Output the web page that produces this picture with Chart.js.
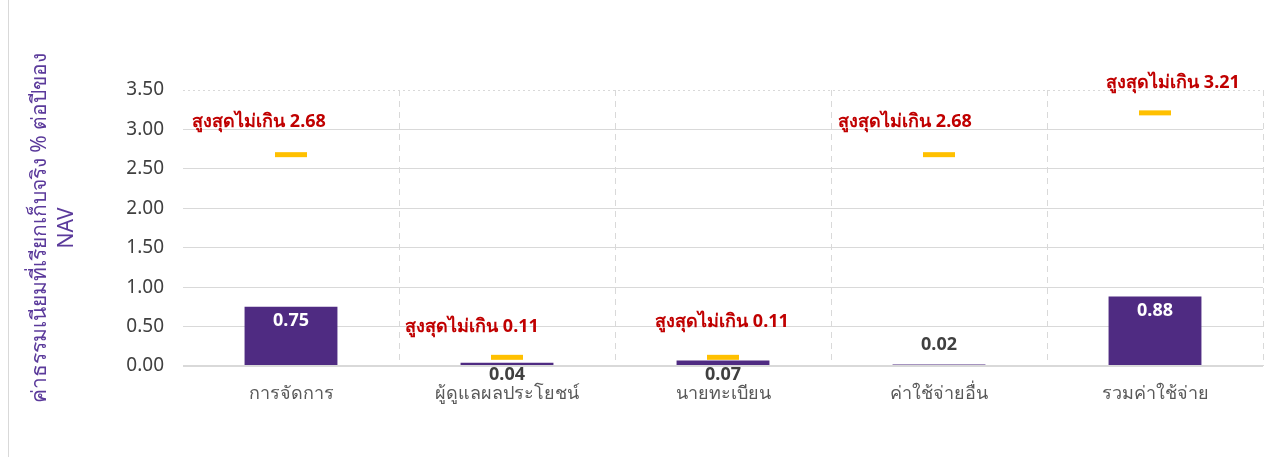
<!DOCTYPE html>
<html>
<head>
<meta charset="utf-8">
<script src="https://cdn.jsdelivr.net/npm/chart.js@4.4.1/dist/chart.umd.min.js"></script>
<style>
  html, body { margin: 0; padding: 0; background: #fff; }
  #wrap { position: relative; width: 1279px; height: 457px; }
  #wrap::before { content: ""; position: absolute; left: 8px; top: 0; bottom: 0; border-left: 1px solid #d9d9d9; }
  canvas { display: block; }
</style>
</head>
<body>
<div id="wrap"><canvas id="feeChart" width="1279" height="457"></canvas></div>
<script>
// Data
const categories = ["การจัดการ", "ผู้ดูแลผลประโยชน์", "นายทะเบียน", "ค่าใช้จ่ายอื่น", "รวมค่าใช้จ่าย"];
const actualFees = [0.75, 0.04, 0.07, 0.02, 0.88];
const maxFees = [2.68, 0.11, 0.11, 2.68, 3.21];
const yTicks = [0, 0.5, 1, 1.5, 2, 2.5, 3, 3.5];
const axisTitle = ["ค่าธรรมเนียมที่เรียกเก็บจริง % ต่อปีของ", "NAV"];
const capPrefix = "สูงสุดไม่เกิน ";

const FONT = "Tahoma, 'Noto Sans', 'DejaVu Sans', sans-serif";
const PURPLE = "#4f2b82";
const GOLD = "#ffc000";
const RED = "#c00000";

// label placement tweaks (style only)
const valueLabelPlace = ["inside", "below", "below", "above", "inside"];
const capLabelShift = [[-32, -33], [-35, -30], [-1, -35], [-34, -33], [18, -30]];

const labelPlugin = {
  id: "feeLabels",
  afterDatasetsDraw(chart) {
    const ctx = chart.ctx;
    const barMeta = chart.getDatasetMeta(0);
    const capMeta = chart.getDatasetMeta(1);
    ctx.save();
    ctx.textAlign = "center";
    ctx.textBaseline = "middle";

    barMeta.data.forEach((bar, i) => {
      const txt = actualFees[i].toFixed(2);
      ctx.font = "bold 18px " + FONT;
      let y;
      if (valueLabelPlace[i] === "inside") {
        ctx.fillStyle = "#ffffff";
        y = bar.y + 14;
      } else if (valueLabelPlace[i] === "below") {
        ctx.fillStyle = "#404040";
        y = bar.base + 10;
      } else {
        ctx.fillStyle = "#404040";
        y = bar.y - 20;
      }
      ctx.fillText(txt, bar.x, y);
    });

    capMeta.data.forEach((pt, i) => {
      ctx.fillStyle = RED;
      ctx.font = "bold 18px " + FONT;
      const [dx, dy] = capLabelShift[i];
      ctx.fillText(capPrefix + maxFees[i].toFixed(2), pt.x + dx, pt.y + dy);
    });
    ctx.restore();
  }
};

const ctx = document.getElementById("feeChart");

new Chart(ctx, {
  type: "bar",
  data: {
    labels: categories,
    datasets: [
      {
        label: "เก็บจริง",
        data: actualFees,
        backgroundColor: PURPLE,
        barPercentage: 0.43,
        categoryPercentage: 1,
        order: 2
      },
      {
        type: "line",
        label: "สูงสุด",
        data: maxFees,
        showLine: false,
        pointStyle: "line",
        pointRadius: 16,
        pointHoverRadius: 16,
        pointBorderWidth: 5,
        pointBorderColor: GOLD,
        pointBackgroundColor: GOLD,
        borderColor: GOLD,
        order: 1
      }
    ]
  },
  options: {
    responsive: false,
    animation: false,
    events: [],
    layout: { autoPadding: false, padding: { top: 90, right: 16, left: 0, bottom: 0 } },
    plugins: {
      legend: { display: false },
      tooltip: { enabled: false }
    },
    scales: {
      x: {
        grid: {
          offset: true,
          color: (c) => (c.index === 0 ? "rgba(0,0,0,0)" : "#d9d9d9"),
          lineWidth: 1,
          drawTicks: false
        },
        border: { display: false, dash: [6, 5] },
        ticks: {
          color: "#595959",
          font: { family: FONT, size: 18 },
          padding: 17
        },
        afterFit: (scale) => {
          scale.height = 91;
          scale.paddingLeft = 0;
          scale.paddingRight = 0;
        }
      },
      y: {
        min: 0,
        max: 3.5,
        afterBuildTicks: (scale) => { scale.ticks = yTicks.map(v => ({ value: v })); },
        grid: {
          color: "#d9d9d9",
          lineWidth: (c) => (c.index === 0 ? 2 : 1),
          drawTicks: false
        },
        border: {
          display: false,
          dash: (c) => (c.index === yTicks.length - 1 ? [2, 3] : [])
        },
        ticks: {
          color: "#404040",
          font: { family: FONT, size: 19 },
          padding: 19,
          callback: (v) => Number(v).toFixed(2)
        },
        title: {
          display: true,
          text: axisTitle,
          color: "#5b3a9b",
          font: { family: FONT, size: 21, lineHeight: 1.3 },
          padding: { top: 26, bottom: 0 }
        },
        afterFit: (scale) => {
          scale.width = 183;
          scale.paddingTop = 0;
          scale.paddingBottom = 0;
        }
      }
    }
  },
  plugins: [labelPlugin]
});
</script>
</body>
</html>
